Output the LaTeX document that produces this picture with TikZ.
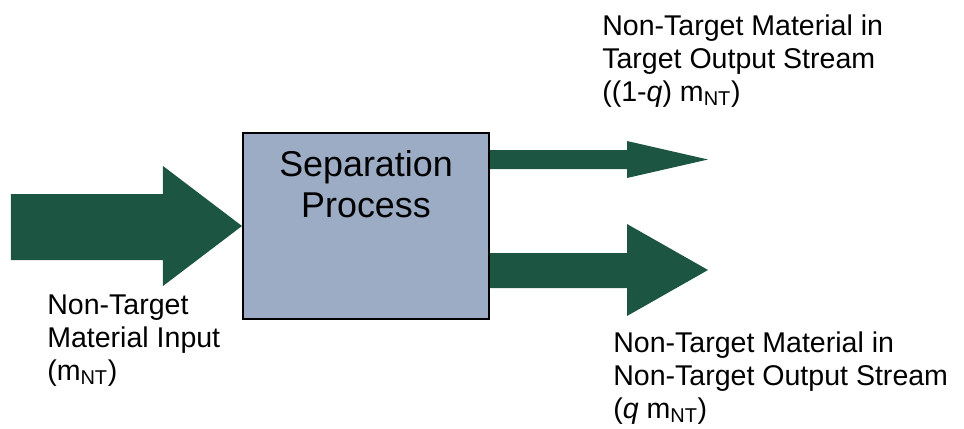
\documentclass[tikz,border=0pt]{standalone}
\usepackage{xcolor}
\usepackage{tikz}
\usepackage{fontspec}
\setmainfont{Liberation Sans}
\usetikzlibrary{shapes, arrows, positioning}
\definecolor{flowgreen}{RGB}{28,86,66}
\definecolor{boxblue}{RGB}{155,172,196}

\begin{document}
\begin{tikzpicture}[x=0.025cm,y=-0.025cm]
        \useasboundingbox (0,0) rectangle (964,428);
        \node[draw=black,line width=1.4pt,fill=boxblue,minimum width=6.15cm,minimum height=4.65cm] (sep) at (366,226) {};
        \node[inner sep=0pt,align=center,anchor=north,font=\fontsize{25.5}{29}\selectfont,below=0.45cm of sep.north] (septxt) {Separation\\Process};
        \begin{scope}[fill=flowgreen]
          \fill (sep.west) -- ++(-79,-60) -- ++(0,28) -- ++(-152,0) -- ++(0,66) -- ++(152,0) -- ++(0,26) -- cycle;
          \fill (sep.east |- 0,150) -- (627,150) -- (627,141) -- (708,159.5) -- (627,178) -- (627,169) -- (sep.east |- 0,169) -- cycle;
          \fill (sep.east |- 0,253) -- (627,253) -- (627,224) -- (708,270) -- (627,316) -- (627,288) -- (sep.east |- 0,288) -- cycle;
        \end{scope}
        \begin{scope}[every node/.style={inner sep=0pt,align=left,anchor=north west,font=\fontsize{20.3}{23.3}\selectfont}]
          \node (input) at (47,295) {Non-Target\\Material Input\\(m\textsubscript{NT})};
          \node (target) at (602,15) {Non-Target Material in\\Target Output Stream\\((1-\textit{q}) m\textsubscript{NT})};
          \node (nontarget) at (613,332) {Non-Target Material in\\Non-Target Output Stream\\(\textit{q} m\textsubscript{NT})};
        \end{scope}
      \end{tikzpicture}
\end{document}
